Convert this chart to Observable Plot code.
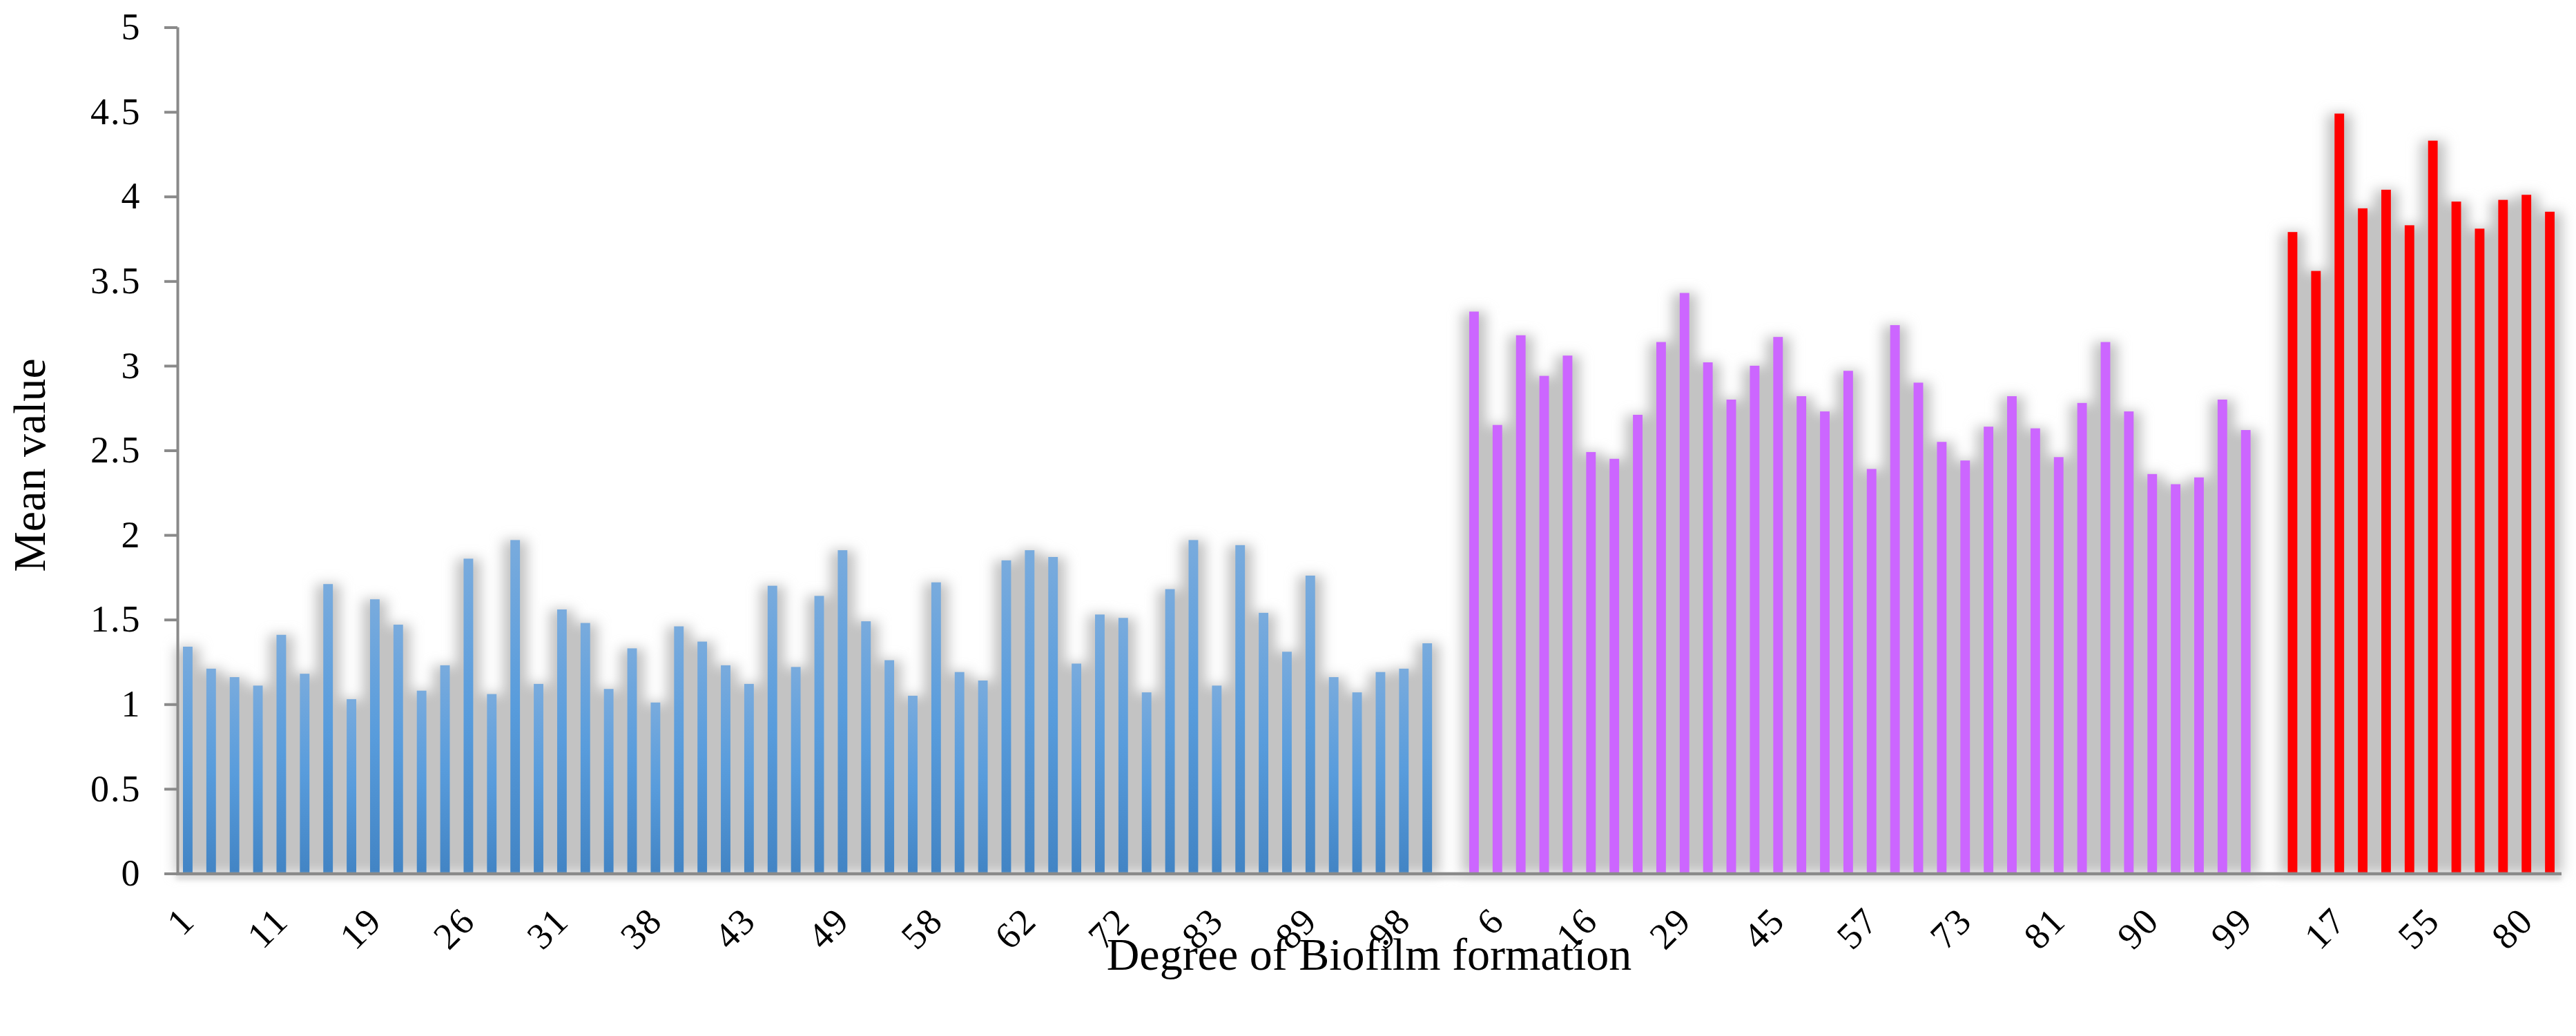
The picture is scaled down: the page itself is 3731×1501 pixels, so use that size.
<!DOCTYPE html>
<html>
<head>
<meta charset="utf-8">
<script src="https://cdn.jsdelivr.net/npm/d3@7"></script>
<script src="https://cdn.jsdelivr.net/npm/@observablehq/plot@0.6"></script>
<style>
  html, body { margin: 0; padding: 0; background: #ffffff; }
  #chart svg { display: block; }
</style>
</head>
<body>
<div id="chart"></div>
<script>
// ---- Data ----
const blueValues = [
  1.34, 1.21, 1.16, 1.11, 1.41, 1.18, 1.71, 1.03, 1.62, 1.47,
  1.08, 1.23, 1.86, 1.06, 1.97, 1.12, 1.56, 1.48, 1.09, 1.33,
  1.01, 1.46, 1.37, 1.23, 1.12, 1.70, 1.22, 1.64, 1.91, 1.49,
  1.26, 1.05, 1.72, 1.19, 1.14, 1.85, 1.91, 1.87, 1.24, 1.53,
  1.51, 1.07, 1.68, 1.97, 1.11, 1.94, 1.54, 1.31, 1.76, 1.16,
  1.07, 1.19, 1.21, 1.36
];
const purpleValues = [
  3.32, 2.65, 3.18, 2.94, 3.06, 2.49, 2.45, 2.71, 3.14, 3.43,
  3.02, 2.80, 3.00, 3.17, 2.82, 2.73, 2.97, 2.39, 3.24, 2.90,
  2.55, 2.44, 2.64, 2.82, 2.63, 2.46, 2.78, 3.14, 2.73, 2.36,
  2.30, 2.34, 2.80, 2.62
];
const redValues = [
  3.79, 3.56, 4.49, 3.93, 4.04, 3.83, 4.33, 3.97, 3.81, 3.98, 4.01, 3.91
];
// every 4th category is labelled on the x axis
const tickLabels = [
  "1", "11", "19", "26", "31", "38", "43", "49", "58", "62", "72", "83", "89", "98",
  "6", "16", "29", "45", "57", "73", "81", "90", "99",
  "17", "55", "80"
];
const yTicks = [0, 0.5, 1, 1.5, 2, 2.5, 3, 3.5, 4, 4.5, 5];
const xTitle = "Degree of Biofilm formation";
const yTitle = "Mean value";

// ---- Build category slots (one empty slot between groups) ----
const blue = blueValues.map((v, i) => ({slot: i, value: v}));
const purpleStart = blueValues.length + 1;
const purple = purpleValues.map((v, i) => ({slot: purpleStart + i, value: v}));
const redStart = purpleStart + purpleValues.length + 1;
const red = redValues.map((v, i) => ({slot: redStart + i, value: v}));
const nSlots = redStart + redValues.length;
const all = [...blue, ...purple, ...red];
const tickSlots = tickLabels.map((_, i) => i * 4 + 0.5);

const font = "'Liberation Serif', 'Times New Roman', serif";
const axisGray = "#8a8a8a";

const barOpts = (extra) => ({x1: "slot", x2: d => d.slot + 1, y1: 0, y2: "value", insetLeft: 10, insetRight: 10, ...extra});

const plot = Plot.plot({
  width: 3731,
  height: 1501,
  marginTop: 39.5,
  marginBottom: 235.5,
  marginLeft: 255,
  marginRight: 21,
  style: {fontFamily: font, background: "#ffffff", overflow: "visible"},
  x: {type: "linear", domain: [0, nSlots]},
  y: {domain: [0, 5]},
  marks: [
    Plot.rect(all, {x1: "slot", x2: d => d.slot + 1, y1: 0, y2: "value", fill: "#c3c3c3", insetLeft: -1, insetRight: -1}),
    Plot.rect(blue, barOpts({fill: "url(#blueGrad)"})),
    Plot.rect(purple, barOpts({fill: "#cc66ff"})),
    Plot.rect(red, barOpts({fill: "#ff0000"})),
    Plot.ruleY([0], {stroke: "#d8d8d8", strokeWidth: 6, dy: 5}),
    Plot.ruleY([0], {stroke: axisGray, strokeWidth: 4.5}),
    Plot.ruleX([0], {y1: 0, y2: 5, stroke: axisGray, strokeWidth: 4, dx: 2}),
    Plot.axisY(yTicks, {
      tickSize: 19, tickPadding: 34, stroke: axisGray, strokeWidth: 4, dx: 2,
      fontSize: 54, fill: "#000", tickFormat: d => String(d), label: null
    }),
    Plot.axisX(tickSlots, {
      tickSize: 0, tickPadding: 59, tickRotate: -45, fontSize: 54, fill: "#000",
      textAnchor: "end", lineAnchor: "middle",
      tickFormat: d => tickLabels[Math.round((d - 0.5) / 4)], label: null
    }),
    Plot.text([yTitle], {frameAnchor: "left", rotate: -90, textAnchor: "middle", lineAnchor: "middle", dx: -212, dy: 21, fontSize: 66, fill: "#000"}),
    Plot.text([xTitle], {frameAnchor: "bottom", textAnchor: "middle", lineAnchor: "middle", dy: 118, fontSize: 66, fill: "#000"})
  ]
});

// defs: gradient for blue bars, blur for shadows
const svg = d3.select(plot);
const defs = svg.insert("defs", ":first-child");
const grad = defs.append("linearGradient").attr("id", "blueGrad")
  .attr("x1", 0).attr("y1", 0).attr("x2", 0).attr("y2", 1);
grad.append("stop").attr("offset", "0%").attr("stop-color", "#79abdd");
grad.append("stop").attr("offset", "50%").attr("stop-color", "#589cdc");
grad.append("stop").attr("offset", "100%").attr("stop-color", "#4284c4");
defs.append("filter").attr("id", "shadowBlur")
  .attr("filterUnits", "userSpaceOnUse")
  .attr("x", 0).attr("y", 0).attr("width", 3731).attr("height", 1501)
  .append("feGaussianBlur").attr("stdDeviation", 9);
defs.append("filter").attr("id", "lineBlur")
  .attr("filterUnits", "userSpaceOnUse")
  .attr("x", 0).attr("y", 0).attr("width", 3731).attr("height", 1501)
  .append("feGaussianBlur").attr("stdDeviation", 3);
const rectGroups = svg.selectAll('g[aria-label="rect"]').nodes();
if (rectGroups.length) d3.select(rectGroups[0]).attr("filter", "url(#shadowBlur)");
const ruleGroups = svg.selectAll('g[aria-label="rule"]').nodes();
if (ruleGroups.length) d3.select(ruleGroups[0]).attr("filter", "url(#lineBlur)");
svg.selectAll('g[aria-label="y-axis tick label"] text, g[aria-label="x-axis tick label"] text').attr("letter-spacing", "2px");

document.getElementById("chart").appendChild(plot);
</script>
</body>
</html>
